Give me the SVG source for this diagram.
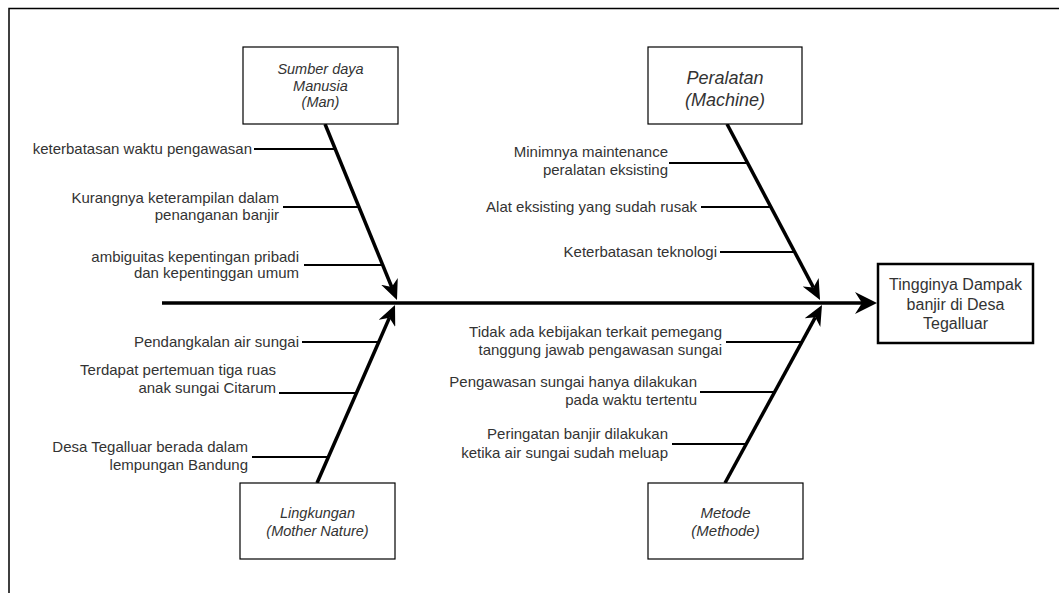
<svg xmlns="http://www.w3.org/2000/svg" width="1059" height="593" viewBox="0 0 1059 593">
<style>
text{font-family:"Liberation Sans",Arial,sans-serif;fill:#333;}
.lbl{font-size:15px;text-anchor:end;}
.cat{font-style:italic;text-anchor:middle;}
.box{fill:#fff;stroke:#000;stroke-width:1.2;}
.rib{stroke:#000;stroke-width:2;fill:none;}
.bone{stroke:#000;stroke-width:3.5;fill:none;}
</style>
<defs>
<marker id="headL" markerUnits="userSpaceOnUse" markerWidth="22" markerHeight="22" viewBox="0 0 22 22" refX="7" refY="11" orient="auto">
<path d="M0,0 L22,11 L0,22 L7,11 Z" fill="#000"/>
</marker>
<marker id="headS" markerUnits="userSpaceOnUse" markerWidth="20" markerHeight="18" viewBox="0 0 20 18" refX="6" refY="9" orient="auto">
<path d="M0,0 L20,9 L0,18 L6,9 Z" fill="#000"/>
</marker>
</defs>
<rect width="1059" height="593" fill="#fff"/>
<g id="frame">
<path d="M9,593 L9,8.5 L1059,8.5" fill="none" stroke="#000" stroke-width="1.5"/>
</g>
<g id="connectors">
<line class="bone" x1="162" y1="303" x2="862" y2="303" stroke-width="4" marker-end="url(#headL)"/>
<line class="bone" x1="325" y1="124" x2="391.7" y2="287" marker-end="url(#headS)"/>
<line class="bone" x1="727" y1="124" x2="813.5" y2="287.6" marker-end="url(#headS)"/>
<line class="bone" x1="317" y1="483" x2="389.4" y2="317.8" marker-end="url(#headS)"/>
<line class="bone" x1="725" y1="483" x2="815.3" y2="317.3" marker-end="url(#headS)"/>
<line class="rib" x1="254" y1="149" x2="335" y2="149"/>
<line class="rib" x1="283" y1="207" x2="359" y2="207"/>
<line class="rib" x1="304" y1="265" x2="382" y2="265"/>
<line class="rib" x1="669" y1="163" x2="747" y2="163"/>
<line class="rib" x1="701" y1="207" x2="770" y2="207"/>
<line class="rib" x1="720" y1="252" x2="794" y2="252"/>
<line class="rib" x1="302" y1="342" x2="378" y2="342"/>
<line class="rib" x1="279" y1="393" x2="356" y2="393"/>
<line class="rib" x1="252" y1="457" x2="328" y2="457"/>
<line class="rib" x1="726" y1="342" x2="801" y2="342"/>
<line class="rib" x1="700" y1="392" x2="774" y2="392"/>
<line class="rib" x1="672" y1="444" x2="746" y2="444"/>
</g>
<g id="man">
<rect class="box" x="243" y="47" width="155" height="77"/>
<text class="cat" x="320.5" y="74" font-size="14.5">Sumber daya</text>
<text class="cat" x="320.5" y="91" font-size="14.5">Manusia</text>
<text class="cat" x="320.5" y="107" font-size="14.5">(Man)</text>
</g>
<g id="machine">
<rect class="box" x="648" y="47" width="154" height="77"/>
<text class="cat" x="725" y="83.5" font-size="18">Peralatan</text>
<text class="cat" x="725" y="105.5" font-size="18">(Machine)</text>
</g>
<g id="environment">
<rect class="box" x="240" y="483" width="155" height="76"/>
<text class="cat" x="317.5" y="518" font-size="14.5">Lingkungan</text>
<text class="cat" x="317.5" y="536" font-size="14.5">(Mother Nature)</text>
</g>
<g id="method">
<rect class="box" x="648" y="483" width="155" height="76"/>
<text class="cat" x="725.5" y="518" font-size="15">Metode</text>
<text class="cat" x="725.5" y="536" font-size="15">(Methode)</text>
</g>
<g id="effect">
<rect x="878" y="264" width="155" height="79" fill="#fff" stroke="#000" stroke-width="2.5"/>
<text x="955.5" y="290" font-size="16" text-anchor="middle">Tingginya Dampak</text>
<text x="955.5" y="310" font-size="16" text-anchor="middle">banjir di Desa</text>
<text x="955.5" y="329" font-size="16" text-anchor="middle">Tegalluar</text>
</g>
<g id="man-causes">
<text class="lbl" x="252" y="154">keterbatasan waktu pengawasan</text>
<text class="lbl" x="279" y="203">Kurangnya keterampilan dalam</text>
<text class="lbl" x="279" y="220">penanganan banjir</text>
<text class="lbl" x="299" y="262">ambiguitas kepentingan pribadi</text>
<text class="lbl" x="299" y="278">dan kepentinggan umum</text>
</g>
<g id="machine-causes">
<text class="lbl" x="668" y="157">Minimnya maintenance</text>
<text class="lbl" x="668" y="175">peralatan eksisting</text>
<text class="lbl" x="697" y="212">Alat eksisting yang sudah rusak</text>
<text class="lbl" x="717" y="257">Keterbatasan teknologi</text>
</g>
<g id="environment-causes">
<text class="lbl" x="299" y="347">Pendangkalan air sungai</text>
<text class="lbl" x="276" y="375">Terdapat pertemuan tiga ruas</text>
<text class="lbl" x="276" y="393">anak sungai Citarum</text>
<text class="lbl" x="248" y="452">Desa Tegalluar berada dalam</text>
<text class="lbl" x="248" y="470">lempungan Bandung</text>
</g>
<g id="method-causes">
<text class="lbl" x="722" y="337">Tidak ada kebijakan terkait pemegang</text>
<text class="lbl" x="722" y="355">tanggung jawab pengawasan sungai</text>
<text class="lbl" x="697" y="387">Pengawasan sungai hanya dilakukan</text>
<text class="lbl" x="697" y="405">pada waktu tertentu</text>
<text class="lbl" x="668" y="439">Peringatan banjir dilakukan</text>
<text class="lbl" x="668" y="458">ketika air sungai sudah meluap</text>
</g>
</svg>
